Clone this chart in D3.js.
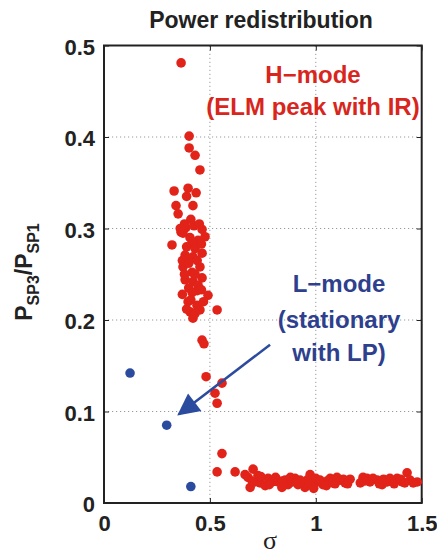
<!DOCTYPE html>
<html>
<head>
<meta charset="utf-8">
<script src="https://cdn.jsdelivr.net/npm/d3@7"></script>
<style>
  body { margin: 0; background: #fff; }
  svg { display: block; font-family: "Liberation Sans", Arial, sans-serif; }
</style>
</head>
<body>
<svg id="chart" width="437" height="559"></svg>
<script>
// H-mode points [sigma, P_SP3/P_SP1]
const hModeSigma = [0.364, 0.402, 0.402, 0.430, 0.453, 0.331, 0.397, 0.435, 0.340, 0.350,
    0.387, 0.425, 0.463, 0.364, 0.406, 0.444, 0.477, 0.373, 0.416, 0.321,
    0.383, 0.420, 0.463, 0.373, 0.416, 0.453, 0.383, 0.420, 0.463, 0.416,
    0.397, 0.491, 0.439, 0.406, 0.453, 0.534, 0.392, 0.444, 0.420,
    0.380, 0.410, 0.450, 0.390, 0.430, 0.460, 0.370, 0.400, 0.440, 0.380,
    0.430, 0.400, 0.440, 0.370, 0.410, 0.460, 0.390, 0.430, 0.470, 0.360,
    0.420, 0.390,
    0.463, 0.472, 0.482, 0.557, 0.524, 0.534,
    0.557, 0.534, 0.619, 0.666, 0.704, 0.690, 0.713, 0.737, 0.775, 0.794,
    0.822, 0.855, 0.869, 0.902, 0.916, 0.959, 0.926, 0.973, 1.006, 1.034,
    1.068, 1.115, 1.162, 1.223, 1.256, 1.290, 1.337, 1.384, 1.431, 1.445,
    1.479, 0.727, 0.761, 0.846, 0.888, 0.949, 0.987, 1.053, 1.091, 1.138,
    1.242, 1.313, 1.360, 1.408,
    0.680, 0.700, 0.740, 0.780, 0.810, 0.840, 0.880, 0.910, 0.940, 0.970,
    1.000, 1.020, 1.050, 1.080, 1.100, 1.130, 1.150, 1.210, 1.230, 1.270,
    1.300, 1.320, 1.350, 1.370, 1.400, 1.420, 1.460, 0.840, 0.990];
const hModeRatio = [0.481, 0.401, 0.388, 0.380, 0.364, 0.341, 0.344, 0.339, 0.325, 0.316,
    0.301, 0.303, 0.299, 0.296, 0.290, 0.287, 0.291, 0.295, 0.285, 0.282,
    0.271, 0.269, 0.273, 0.258, 0.252, 0.258, 0.244, 0.242, 0.246, 0.230,
    0.220, 0.227, 0.216, 0.209, 0.211, 0.211, 0.263, 0.238, 0.202,
    0.305, 0.310, 0.305, 0.280, 0.278, 0.283, 0.265, 0.262, 0.265, 0.250,
    0.250, 0.235, 0.232, 0.228, 0.222, 0.233, 0.212, 0.207, 0.220, 0.300,
    0.325, 0.335,
    0.178, 0.174, 0.138, 0.131, 0.120, 0.109,
    0.054, 0.034, 0.034, 0.031, 0.037, 0.017, 0.023, 0.022, 0.027, 0.023,
    0.023, 0.025, 0.020, 0.027, 0.020, 0.025, 0.025, 0.031, 0.023, 0.020,
    0.027, 0.025, 0.026, 0.028, 0.023, 0.025, 0.023, 0.027, 0.033, 0.025,
    0.023, 0.030, 0.019, 0.019, 0.023, 0.017, 0.019, 0.024, 0.021, 0.022,
    0.027, 0.020, 0.024, 0.023,
    0.028, 0.024, 0.029, 0.020, 0.028, 0.024, 0.028, 0.024, 0.022, 0.022,
    0.027, 0.025, 0.019, 0.022, 0.028, 0.026, 0.021, 0.022, 0.024, 0.027,
    0.021, 0.026, 0.027, 0.021, 0.026, 0.022, 0.022, 0.017, 0.016];

// L-mode points
const lModeSigma = [0.123, 0.296, 0.410];
const lModeRatio = [0.142, 0.085, 0.018];

// arrow from label to L-mode point
const arrowFrom = [0.784, 0.173];
const arrowTo = [0.354, 0.097];

const xTicks = [0, 0.5, 1, 1.5];
const yTicks = [0, 0.1, 0.2, 0.3, 0.4, 0.5];

const redColor = '#e2231a';
const blueColor = '#2b4b9e';

const svg = d3.select('#chart');

const x = d3.scaleLinear().domain([0, 1.5]).range([104, 421.7]);
const y = d3.scaleLinear().domain([0, 0.5]).range([503, 45.5]);

// grid
const grid = svg.append('g')
    .attr('stroke', '#999')
    .attr('stroke-width', 1)
    .attr('stroke-dasharray', '1.2,2.8');
xTicks.slice(1, -1).forEach(t => {
    grid.append('line')
        .attr('x1', x(t)).attr('x2', x(t))
        .attr('y1', y(0)).attr('y2', y(0.5));
});
yTicks.slice(1, -1).forEach(t => {
    grid.append('line')
        .attr('x1', x(0)).attr('x2', x(1.5))
        .attr('y1', y(t)).attr('y2', y(t));
});

// axes with inward ticks
const fmt = d => d === 0 ? '0' : d3.format('')(d);
const xAxis = svg.append('g')
    .attr('transform', `translate(0,${y(0)})`)
    .call(d3.axisBottom(x).tickValues(xTicks).tickSizeInner(-5).tickSizeOuter(0).tickPadding(12).tickFormat(fmt));
const yAxis = svg.append('g')
    .attr('transform', `translate(${x(0)},0)`)
    .call(d3.axisLeft(y).tickValues(yTicks).tickSizeInner(-5).tickSizeOuter(0).tickPadding(9).tickFormat(fmt));
svg.append('g')
    .attr('transform', `translate(0,${y(0.5)})`)
    .call(d3.axisTop(x).tickValues(xTicks).tickSizeInner(-5).tickSizeOuter(0).tickFormat(''));
svg.append('g')
    .attr('transform', `translate(${x(1.5)},0)`)
    .call(d3.axisRight(y).tickValues(yTicks).tickSizeInner(-5).tickSizeOuter(0).tickFormat(''));

svg.selectAll('.domain').remove();
svg.selectAll('.tick line').attr('stroke', '#222');
[xAxis, yAxis].forEach(a => a.selectAll('text')
    .attr('font-size', 22)
    .attr('font-weight', 'bold')
    .attr('fill', '#222')
    .attr('font-family', '"Liberation Sans", Arial, sans-serif'));
yAxis.selectAll('text').attr('dy', '0.4em');

// frame
svg.append('rect')
    .attr('x', x(0)).attr('y', y(0.5))
    .attr('width', x(1.5) - x(0)).attr('height', y(0) - y(0.5))
    .attr('fill', 'none')
    .attr('stroke', '#222')
    .attr('stroke-width', 2);

// points
svg.append('g').selectAll('circle')
    .data(d3.zip(hModeSigma, hModeRatio))
    .join('circle')
    .attr('cx', d => x(d[0]))
    .attr('cy', d => y(d[1]))
    .attr('r', 4.8)
    .attr('fill', redColor);

svg.append('g').selectAll('circle')
    .data(d3.zip(lModeSigma, lModeRatio))
    .join('circle')
    .attr('cx', d => x(d[0]))
    .attr('cy', d => y(d[1]))
    .attr('r', 4.8)
    .attr('fill', blueColor);

// arrow
const defs = svg.append('defs');
defs.append('marker')
    .attr('id', 'head')
    .attr('viewBox', '0 0 10 10')
    .attr('refX', 9).attr('refY', 5)
    .attr('markerWidth', 30).attr('markerHeight', 22)
    .attr('markerUnits', 'userSpaceOnUse')
    .attr('orient', 'auto')
    .append('path')
    .attr('d', 'M0,0 L10,5 L0,10 Z')
    .attr('fill', blueColor);
svg.append('line')
    .attr('x1', x(arrowFrom[0])).attr('y1', y(arrowFrom[1]))
    .attr('x2', x(arrowTo[0])).attr('y2', y(arrowTo[1]))
    .attr('stroke', blueColor)
    .attr('stroke-width', 2.5)
    .attr('marker-end', 'url(#head)');

// title
svg.append('text')
    .attr('x', 261).attr('y', 28)
    .attr('text-anchor', 'middle')
    .attr('font-size', 23)
    .attr('font-weight', 'bold')
    .attr('fill', '#222')
    .text('Power redistribution');

// annotations
const hLabel = svg.append('text')
    .attr('text-anchor', 'middle')
    .attr('font-size', 24)
    .attr('font-weight', 'bold')
    .attr('fill', '#d8261d');
hLabel.append('tspan').attr('x', 313).attr('y', 83).text('H\u2212mode');
hLabel.append('tspan').attr('x', 313).attr('y', 115).text('(ELM peak with IR)');

const lLabel = svg.append('text')
    .attr('text-anchor', 'middle')
    .attr('font-size', 24)
    .attr('font-weight', 'bold')
    .attr('fill', '#2e3f8e');
lLabel.append('tspan').attr('x', 339).attr('y', 292).text('L\u2212mode');
lLabel.append('tspan').attr('x', 339).attr('y', 328).text('(stationary');
lLabel.append('tspan').attr('x', 339).attr('y', 361).text('with LP)');

// axis labels
const yLabel = svg.append('text')
    .attr('transform', 'translate(32,272) rotate(-90)')
    .attr('text-anchor', 'middle')
    .attr('font-weight', 'bold')
    .attr('fill', '#222')
    .attr('font-size', 23);
yLabel.append('tspan').text('P');
yLabel.append('tspan').attr('font-size', 16).attr('dy', 7).text('SP3');
yLabel.append('tspan').attr('dy', -7).text('/P');
yLabel.append('tspan').attr('font-size', 16).attr('dy', 7).text('SP1');

svg.append('text')
    .attr('x', 270).attr('y', 549)
    .attr('text-anchor', 'middle')
    .attr('font-family', '"Liberation Serif", "Times New Roman", serif')
    .attr('font-size', 26)
    .attr('fill', '#222')
    .text('\u03c3');
</script>
</body>
</html>
